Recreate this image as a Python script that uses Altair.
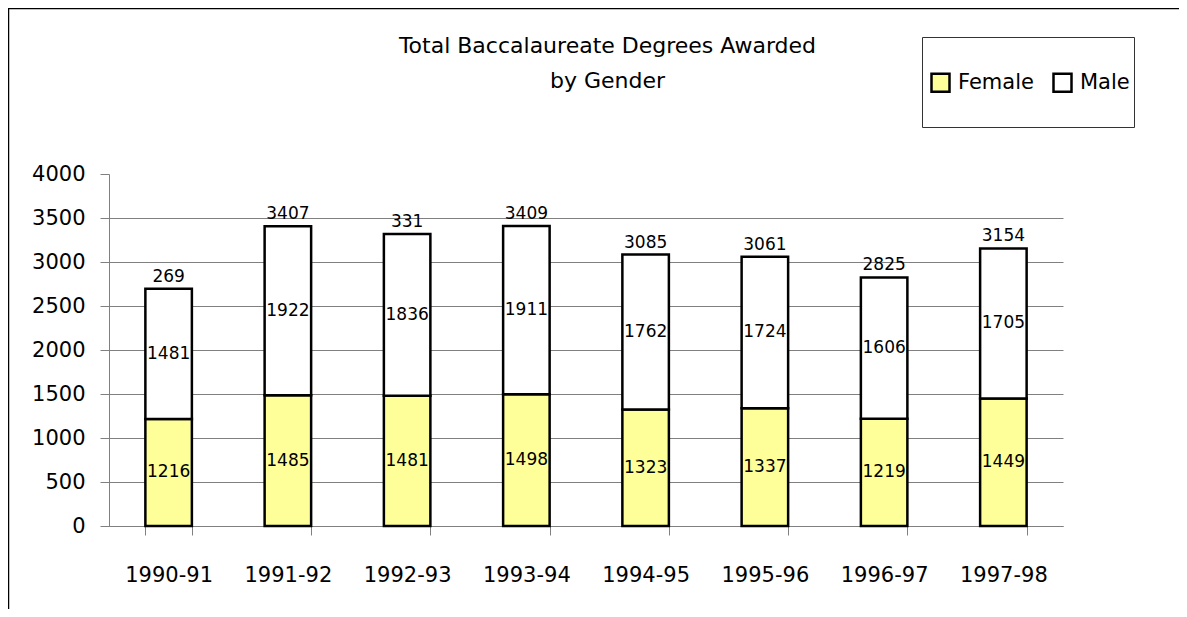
import altair as alt
import pandas as pd

YEARS = ["1990-91", "1991-92", "1992-93", "1993-94", "1994-95", "1995-96", "1996-97", "1997-98"]
FEMALE = [1216, 1485, 1481, 1498, 1323, 1337, 1219, 1449]
MALE = [1481, 1922, 1836, 1911, 1762, 1724, 1606, 1705]
TOTAL_LABELS = ["269", "3407", "331", "3409", "3085", "3061", "2825", "3154"]
SERIES = ["Female", "Male"]
SERIES_COLORS = ["#FFFF99", "#FFFFFF"]
TITLE_LINES = ["Total Baccalaureate Degrees Awarded", "by Gender"]
Y_TICKS = [0, 500, 1000, 1500, 2000, 2500, 3000, 3500, 4000]

rows = []
for yr, f, m in zip(YEARS, FEMALE, MALE):
    rows.append(dict(year=yr, series="Female", start=0, end=f, mid=f / 2, label=str(f)))
    rows.append(dict(year=yr, series="Male", start=f, end=f + m, mid=f + m / 2, label=str(m)))
df = pd.DataFrame(rows)
tot = pd.DataFrame({"year": YEARS, "total": [f + m for f, m in zip(FEMALE, MALE)], "label": TOTAL_LABELS})
one = pd.DataFrame({"k": [0]})

FONT = "DejaVu Sans"
GRAY = "#808080"
W, H = 954, 352

xenc = alt.X(
    "year:N", sort=YEARS,
    scale=alt.Scale(paddingInner=0.61, paddingOuter=0.305),
    axis=alt.Axis(title=None, labelAngle=0, tickBand="extent", tickSize=9, tickColor=GRAY,
                  domainColor=GRAY, labelFont=FONT, labelFontSize=21, labelColor="black",
                  labelPadding=29, grid=False),
)
yscale = alt.Scale(domain=[0, 4000], nice=False)
yenc = alt.Y(
    "start:Q", scale=yscale,
    axis=alt.Axis(title=None, values=Y_TICKS, format="d", tickSize=9, tickColor=GRAY, domainColor=GRAY,
                  labelFont=FONT, labelFontSize=21, labelColor="black", labelPadding=15,
                  grid=True, gridColor=GRAY,
                  gridOpacity={"condition": {"test": "datum.value >= 4000", "value": 0}, "value": 1}),
)

frame = alt.Chart(one).mark_rect(fillOpacity=0, stroke="black", strokeWidth=1.5).encode(
    x=alt.value(-100.5), x2=alt.value(1300), y=alt.value(-165.5), y2=alt.value(800)
)
legend_box = alt.Chart(one).mark_rect(fillOpacity=0, stroke="#333333", strokeWidth=1).encode(
    x=alt.value(813.5), x2=alt.value(1025.5), y=alt.value(-136.5), y2=alt.value(-46.5)
)

bars = alt.Chart(df).mark_bar(stroke="black", strokeWidth=2.5).encode(
    x=xenc,
    y=yenc,
    y2="end:Q",
    color=alt.Color(
        "series:N",
        scale=alt.Scale(domain=SERIES, range=SERIES_COLORS),
        legend=alt.Legend(title=None, orient="none", legendX=821, legendY=-102,
                          direction="horizontal", symbolType="square", symbolSize=324,
                          symbolStrokeColor="black", symbolStrokeWidth=2.5,
                          labelFont=FONT, labelFontSize=21, labelColor="black",
                          labelOffset=7, columnPadding=14, padding=0),
    ),
)

seg_labels = alt.Chart(df).mark_text(font=FONT, fontSize=17, color="black", baseline="middle").encode(
    x=alt.X("year:N", sort=YEARS),
    y=alt.Y("mid:Q", scale=yscale),
    text="label:N",
)

tot_labels = alt.Chart(tot).mark_text(font=FONT, fontSize=17, color="black", baseline="bottom", dy=-3).encode(
    x=alt.X("year:N", sort=YEARS),
    y=alt.Y("total:Q", scale=yscale),
    text="label:N",
)

title = alt.Chart(one).mark_text(
    text=TITLE_LINES, font=FONT, fontSize=22, color="black", lineHeight=35,
    align="center", baseline="alphabetic"
).encode(x=alt.value(498.5), y=alt.value(-121))

chart = alt.layer(frame, legend_box, bars, seg_labels, tot_labels, title).properties(
    width=W, height=H,
    autosize=alt.AutoSizeParams(type="none"),
    padding={"left": 101, "top": 166, "right": 116, "bottom": 83},
).configure_view(stroke="transparent")

chart.save("out.html", embed_options={"renderer": "svg", "actions": False})
